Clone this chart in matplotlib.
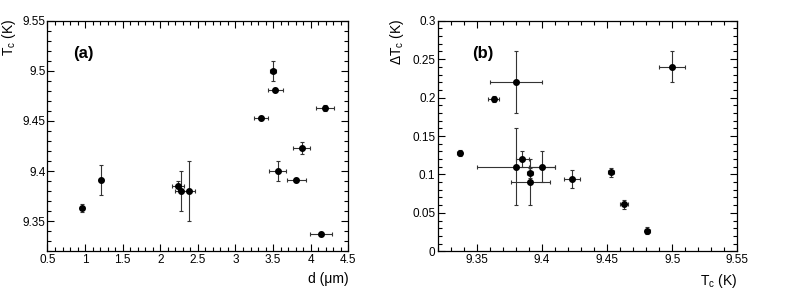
import matplotlib
matplotlib.use('Agg')
import matplotlib.pyplot as plt
from matplotlib.ticker import MultipleLocator, FormatStrFormatter

plt.rcParams['font.family'] = ['Liberation Sans', 'DejaVu Sans']
plt.rcParams['mathtext.fontset'] = 'custom'
plt.rcParams['mathtext.rm'] = 'Liberation Sans'
plt.rcParams['mathtext.it'] = 'Liberation Sans'

# thickness d (um) and its error
d = [0.96, 1.21, 2.24, 2.28, 2.38, 3.34, 3.50, 3.53, 3.56, 3.81, 3.88, 4.19, 4.14]
d_err = [0.02, 0.03, 0.08, 0.08, 0.08, 0.09, 0.045, 0.10, 0.115, 0.13, 0.115, 0.115, 0.145]
# critical temperature Tc (K) and its error
tc = [9.363, 9.391, 9.385, 9.380, 9.380, 9.453, 9.500, 9.481, 9.400, 9.391, 9.423, 9.463, 9.337]
tc_err = [0.004, 0.015, 0.005, 0.02, 0.03, 0.002, 0.01, 0.002, 0.01, 0.002, 0.006, 0.003, 0.002]
# transition width dTc (K) and its error
dtc = [0.198, 0.090, 0.120, 0.220, 0.110, 0.103, 0.240, 0.027, 0.110, 0.102, 0.094, 0.061, 0.128]
dtc_err = [0.0035, 0.03, 0.01, 0.04, 0.05, 0.006, 0.02, 0.004, 0.02, 0.006, 0.0115, 0.006, 0.004]

fig = plt.figure(figsize=(7.89, 2.98), dpi=100)
ax1 = fig.add_axes([0.0602, 0.1567, 0.3812, 0.7738])
ax2 = fig.add_axes([0.5545, 0.1567, 0.3802, 0.7738])


def style(ax, xmaj, xmin, ymaj, ymin):
    ax.xaxis.set_major_locator(MultipleLocator(xmaj))
    ax.xaxis.set_minor_locator(MultipleLocator(xmin))
    ax.yaxis.set_major_locator(MultipleLocator(ymaj))
    ax.yaxis.set_minor_locator(MultipleLocator(ymin))
    ax.xaxis.set_major_formatter(FormatStrFormatter('%g'))
    ax.yaxis.set_major_formatter(FormatStrFormatter('%g'))
    ax.tick_params(which='both', direction='in', top=True, right=True,
                   width=0.8, labelsize=8.5, colors='black')
    ax.tick_params(which='major', length=5.2)
    ax.tick_params(which='minor', length=2.7)
    ax.tick_params(axis='x', pad=2)
    ax.tick_params(axis='y', pad=1.5)
    for s in ax.spines.values():
        s.set_linewidth(0.9)


ekw = dict(fmt='o', color='black', ms=4, ecolor='#333333', elinewidth=0.8,
           capsize=1.5, capthick=0.8)

ax1.errorbar(d, tc, xerr=d_err, yerr=tc_err, **ekw)
ax1.set_xlim(0.5, 4.5)
ax1.set_ylim(9.32, 9.55)
style(ax1, 0.5, 0.1, 0.05, 0.01)
ax1.set_xlabel('d (μm)', fontsize=10, loc='right', labelpad=4)
ax1.set_ylabel('T$_{c}$ (K)', fontsize=10, loc='top')
ax1.yaxis.set_label_coords(-0.098, 1.01)
ax1.text(0.084, 0.856, '(a)', transform=ax1.transAxes, fontsize=12,
         fontweight='bold', va='center', ha='left')

ax2.errorbar(tc, dtc, xerr=tc_err, yerr=dtc_err, **ekw)
ax2.set_xlim(9.32, 9.55)
ax2.set_ylim(0, 0.3)
style(ax2, 0.05, 0.01, 0.05, 0.01)
ax2.set_xlabel('T$_{c}$ (K)', fontsize=10, loc='right', labelpad=4)
ax2.set_ylabel('ΔT$_{c}$ (K)', fontsize=10, loc='top')
ax2.yaxis.set_label_coords(-0.105, 1.01)
ax2.text(0.114, 0.856, '(b)', transform=ax2.transAxes, fontsize=12,
         fontweight='bold', va='center', ha='left')

fig.savefig('out.png', dpi=100)
